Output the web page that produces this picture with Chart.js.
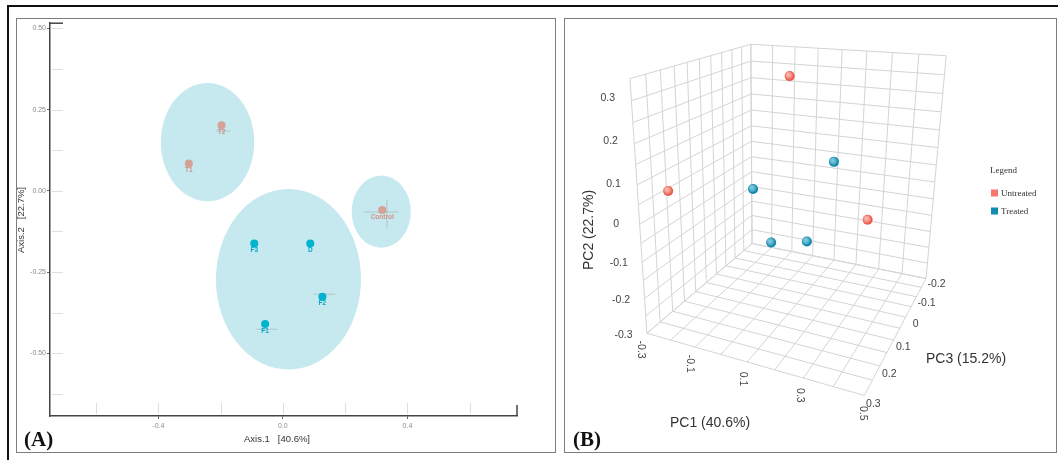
<!DOCTYPE html>
<html>
<head>
<meta charset="utf-8">
<script src="https://cdn.jsdelivr.net/npm/chart.js@4.4.1/dist/chart.umd.min.js"></script>
<style>
  html, body { margin: 0; padding: 0; background: #fff; }
  body { width: 1058px; height: 460px; position: relative; overflow: hidden; font-family: "Liberation Sans", Arial, sans-serif; }
  #outer { position: absolute; left: 7px; top: 5px; width: 1060px; height: 470px; border-top: 2px solid #111; border-left: 2px solid #111; }
  .frame { position: absolute; box-sizing: border-box; border: 1.5px solid #7d7d7d; }
  #frameA { left: 16px; top: 18px; width: 540px; height: 435px; }
  #frameB { left: 564px; top: 18px; width: 493px; height: 435px; }
  canvas { position: absolute; }
  #chartA { left: 16px; top: 18px; }
  #chartB { left: 564px; top: 18px; }
  .tag { position: absolute; font-family: "Liberation Serif", "Times New Roman", serif; font-weight: bold; font-size: 21px; line-height: 21px; color: #111; }
</style>
</head>
<body>
<div id="outer"></div>
<div class="frame" id="frameA"></div>
<div class="frame" id="frameB"></div>
<canvas id="chartA" width="540" height="435"></canvas>
<canvas id="chartB" width="493" height="435"></canvas>
<div class="tag" style="left:24px; top:429px;">(A)</div>
<div class="tag" style="left:573px; top:429px;">(B)</div>
<script>
// ---- panel A: PCoA scores ----
const samplesA = ['T1', 'T2', 'Control', 'F1', 'F2', 'F3', 'D'];
const axis1A = [-0.302, -0.197, 0.319, -0.057, 0.127, -0.092, 0.088];
const axis2A = [0.084, 0.202, -0.059, -0.410, -0.326, -0.162, -0.162];
const groupA = ['untreated', 'untreated', 'untreated', 'treated', 'treated', 'treated', 'treated'];

// confidence ellipses (centre and half-axes, in axis units)
const ellipseCx = [-0.242, 0.018, 0.316];
const ellipseCy = [0.150, -0.272, -0.064];
const ellipseRx = [0.150, 0.233, 0.095];
const ellipseRy = [0.182, 0.278, 0.111];

// faint spread bars drawn behind some samples
const barX1 = [-0.214, 0.259, 0.334, 0.098, -0.084];
const barX2 = [-0.169, 0.371, 0.334, 0.168, -0.017];
const barY1 = [0.184, -0.065, -0.028, -0.318, -0.426];
const barY2 = [0.184, -0.065, -0.115, -0.318, -0.426];

const xTicksA = [-0.4, 0.0, 0.4];
const yTicksA = [0.50, 0.25, 0.00, -0.25, -0.50];
const xGuidesA = [-0.6, -0.4, -0.2, 0.0, 0.2, 0.4, 0.6];
const yGuidesA = [0.5, 0.375, 0.25, 0.125, 0, -0.125, -0.25, -0.375, -0.5, -0.625];

// ---- panel B: 3D PCA scores ----
const untreatedPC1 = [-0.05, -0.236, 0.36];
const untreatedPC2 = [0.288, 0.072, -0.018];
const untreatedPC3 = [-0.10, 0.25, 0.05];
const treatedPC1 = [0.20, -0.126, 0.03, 0.136];
const treatedPC2 = [0.10, -0.01, -0.101, -0.108];
const treatedPC3 = [0.00, 0.00, 0.10, 0.05];

const pc1Range = [-0.3, 0.5];
const pc2Range = [-0.3, 0.35];
const pc3Range = [-0.2, 0.3];
const pc1Grid = [-0.3, -0.2, -0.1, 0, 0.1, 0.2, 0.3, 0.4, 0.5];
const pc2Grid = [-0.3, -0.25, -0.2, -0.15, -0.1, -0.05, 0, 0.05, 0.1, 0.15, 0.2, 0.25, 0.3, 0.35];
const pc3Grid = [-0.2, -0.15, -0.1, -0.05, 0, 0.05, 0.1, 0.15, 0.2, 0.25, 0.3];
const pc1Ticks = [-0.3, -0.1, 0.1, 0.3, 0.5];
const pc2Ticks = [-0.3, -0.2, -0.1, 0, 0.1, 0.2, 0.3];
const pc3Ticks = [-0.2, -0.1, 0, 0.1, 0.2, 0.3];

const colUntreatedA = '#d5a194';
const colTreatedA = '#00b3cf';
const colUntreatedB = '#f8766d';
const colTreatedB = '#0f8db3';

const sans = '"Liberation Sans", Arial, sans-serif';
const serif = '"Liberation Serif", "Times New Roman", serif';

// ---------- panel A ----------
const panelAPlugin = {
  id: 'panelA',
  beforeDatasetsDraw(chart) {
    const { ctx, chartArea: a, scales: { x, y } } = chart;
    ctx.save();
    // faint guide stubs next to the axes
    ctx.strokeStyle = '#dedede';
    ctx.lineWidth = 1;
    yGuidesA.forEach(v => {
      const py = Math.round(y.getPixelForValue(v)) + 0.5;
      ctx.beginPath(); ctx.moveTo(a.left + 2, py); ctx.lineTo(a.left + 13, py); ctx.stroke();
    });
    xGuidesA.forEach(v => {
      const px = Math.round(x.getPixelForValue(v)) + 0.5;
      ctx.beginPath(); ctx.moveTo(px, a.bottom - 2); ctx.lineTo(px, a.bottom - 13); ctx.stroke();
    });
    // ellipses
    ctx.fillStyle = '#c6e9ef';
    ellipseCx.forEach((cx, i) => {
      const px = x.getPixelForValue(cx);
      const py = y.getPixelForValue(ellipseCy[i]);
      const rx = x.getPixelForValue(cx + ellipseRx[i]) - px;
      const ry = py - y.getPixelForValue(ellipseCy[i] + ellipseRy[i]);
      ctx.beginPath(); ctx.ellipse(px, py, rx, ry, 0, 0, Math.PI * 2); ctx.fill();
    });
    // spread bars
    ctx.strokeStyle = 'rgba(150,150,150,0.45)';
    barX1.forEach((v, i) => {
      ctx.beginPath();
      ctx.moveTo(x.getPixelForValue(v), y.getPixelForValue(barY1[i]));
      ctx.lineTo(x.getPixelForValue(barX2[i]), y.getPixelForValue(barY2[i]));
      ctx.stroke();
    });
    ctx.restore();
  },
  afterDatasetsDraw(chart) {
    const { ctx, chartArea: a, scales: { x, y } } = chart;
    ctx.save();
    // sample names under the points
    ctx.font = 'bold 6.5px ' + sans;
    ctx.textAlign = 'center';
    ctx.textBaseline = 'top';
    samplesA.forEach((s, i) => {
      ctx.fillStyle = groupA[i] === 'untreated' ? '#cf9385' : '#00a8c6';
      ctx.fillText(s, x.getPixelForValue(axis1A[i]), y.getPixelForValue(axis2A[i]) + 3.5);
    });
    // little corner pieces of the panel box
    ctx.strokeStyle = '#444';
    ctx.lineWidth = 1.5;
    ctx.beginPath(); ctx.moveTo(a.left, a.top); ctx.lineTo(a.left + 13, a.top); ctx.stroke();
    ctx.beginPath(); ctx.moveTo(a.right, a.bottom); ctx.lineTo(a.right, a.bottom - 11); ctx.stroke();
    // axis titles
    ctx.fillStyle = '#333';
    ctx.font = '9.5px ' + sans;
    ctx.textBaseline = 'middle';
    ctx.fillText('Axis.1   [40.6%]', 261, 421);
    ctx.translate(5, 202);
    ctx.rotate(-Math.PI / 2);
    ctx.fillText('Axis.2   [22.7%]', 0, 0);
    ctx.restore();
  }
};

const pointsA = g => samplesA.map((s, i) => ({ x: axis1A[i], y: axis2A[i], g: groupA[i] })).filter(p => p.g === g);

new Chart(document.getElementById('chartA'), {
  type: 'scatter',
  data: {
    datasets: [
      { label: 'Untreated', data: pointsA('untreated'), backgroundColor: colUntreatedA, borderWidth: 0, pointRadius: 4 },
      { label: 'Treated', data: pointsA('treated'), backgroundColor: colTreatedA, borderWidth: 0, pointRadius: 4 }
    ]
  },
  options: {
    responsive: false,
    animation: false,
    events: [],
    layout: { padding: { left: 0, right: 39, top: 5, bottom: 0 } },
    plugins: { legend: { display: false }, tooltip: { enabled: false } },
    scales: {
      x: {
        min: -0.748, max: 0.752,
        afterFit: s => { s.height = 37; },
        afterBuildTicks: s => { s.ticks = xTicksA.map(v => ({ value: v })); },
        ticks: { callback: v => v.toFixed(1), color: '#8c8c8c', font: { size: 7, family: sans }, padding: 3, maxRotation: 0 },
        grid: { drawOnChartArea: false, tickLength: 3, color: '#666' },
        border: { display: true, color: '#444', width: 1.5 }
      },
      y: {
        min: -0.693, max: 0.516,
        afterFit: s => { s.width = 34; },
        afterBuildTicks: s => { s.ticks = yTicksA.map(v => ({ value: v })); },
        ticks: { callback: v => v.toFixed(2), color: '#8c8c8c', font: { size: 7, family: sans }, padding: 1 },
        grid: { drawOnChartArea: false, tickLength: 3, color: '#666' },
        border: { display: true, color: '#444', width: 1.5 }
      }
    }
  },
  plugins: [panelAPlugin]
});

// ---------- panel B ----------
const norm = (v, r) => (v - r[0]) / (r[1] - r[0]);

// perspective camera fitted to where the box corners sit on the canvas
// (corners listed twice so they weigh more than the tick-derived points)
const boxCorners = [
  [[0, 0, 0], [183.7, 228.7]], [[0, 0, 1], [82, 315.3]], [[1, 0, 0], [366, 258.7]], [[1, 0, 1], [301, 383.7]],
  [[0, 1, 0], [188.7, 20.3]], [[0, 1, 1], [59.3, 58]], [[1, 1, 0], [383.7, 34.7]]
];
const tickAnchors = [[[0.5, 0, 1], [181.7, 348]], [[1, 0, 0.4], [343.5, 300.3]], [[0, 0.4615, 1], [73.3, 203.7]]];
const cameraFit = [...boxCorners, ...boxCorners, ...tickAnchors];

function solve(A, b) {
  const n = b.length;
  for (let i = 0; i < n; i++) {
    let p = i;
    for (let r = i + 1; r < n; r++) if (Math.abs(A[r][i]) > Math.abs(A[p][i])) p = r;
    [A[i], A[p]] = [A[p], A[i]];
    [b[i], b[p]] = [b[p], b[i]];
    for (let r = i + 1; r < n; r++) {
      const f = A[r][i] / A[i][i];
      for (let c = i; c < n; c++) A[r][c] -= f * A[i][c];
      b[r] -= f * b[i];
    }
  }
  const out = new Array(n).fill(0);
  for (let i = n - 1; i >= 0; i--) {
    let s = b[i];
    for (let c = i + 1; c < n; c++) s -= A[i][c] * out[c];
    out[i] = s / A[i][i];
  }
  return out;
}

function fitCamera(pairs) {
  const n = 11;
  const AtA = [...Array(n)].map(() => Array(n).fill(0));
  const Atb = Array(n).fill(0);
  const add = (row, v) => {
    for (let i = 0; i < n; i++) {
      Atb[i] += row[i] * v;
      for (let j = 0; j < n; j++) AtA[i][j] += row[i] * row[j];
    }
  };
  pairs.forEach(([[X, Y, Z], [px, py]]) => {
    const x = (px - 250) / 100, y = (py - 200) / 100;
    add([X, Y, Z, 1, 0, 0, 0, 0, -x * X, -x * Y, -x * Z], x);
    add([0, 0, 0, 0, X, Y, Z, 1, -y * X, -y * Y, -y * Z], y);
  });
  const m = solve(AtA, Atb);
  return (X, Y, Z) => {
    const w = m[8] * X + m[9] * Y + m[10] * Z + 1;
    return {
      x: (m[0] * X + m[1] * Y + m[2] * Z + m[3]) / w * 100 + 250,
      y: (m[4] * X + m[5] * Y + m[6] * Z + m[7]) / w * 100 + 200
    };
  };
}

const cam = fitCamera(cameraFit);
const project = (p1, p2, p3) => cam(norm(p1, pc1Range), norm(p2, pc2Range), norm(p3, pc3Range));

const gridSets = [];
const seg = (a, b) => gridSets.push({
  data: [project(...a), project(...b)], showLine: true, pointRadius: 0,
  borderColor: '#d4d4d4', borderWidth: 1, order: 2
});
const [p1a, p1b] = pc1Range, [p2a, p2b] = pc2Range, [p3a, p3b] = pc3Range;
// back-left wall (PC1 at its minimum)
pc3Grid.forEach(v => seg([p1a, p2a, v], [p1a, p2b, v]));
pc2Grid.forEach(v => seg([p1a, v, p3a], [p1a, v, p3b]));
// back-right wall (PC3 at its minimum)
pc1Grid.forEach(v => seg([v, p2a, p3a], [v, p2b, p3a]));
pc2Grid.forEach(v => seg([p1a, v, p3a], [p1b, v, p3a]));
// floor (PC2 at its minimum)
pc1Grid.forEach(v => seg([v, p2a, p3a], [v, p2a, p3b]));
pc3Grid.forEach(v => seg([p1a, p2a, v], [p1b, p2a, v]));

const fmt = v => (v === 0 ? '0' : v.toFixed(1));

const panelBPlugin = {
  id: 'panelB',
  afterDatasetsDraw(chart) {
    // shading on the spheres
    const ctx = chart.ctx;
    [[0, '#fcb9ad'], [1, '#6fcde6']].forEach(([i, light]) => {
      chart.getDatasetMeta(i).data.forEach(el => {
        const g = ctx.createRadialGradient(el.x - 1.6, el.y - 1.8, 0.3, el.x - 0.5, el.y - 0.6, 4.6);
        g.addColorStop(0, light);
        g.addColorStop(1, 'rgba(255,255,255,0)');
        ctx.save();
        ctx.fillStyle = g;
        ctx.beginPath(); ctx.arc(el.x, el.y, 5, 0, Math.PI * 2); ctx.fill();
        ctx.restore();
      });
    });
  },
  afterDraw(chart) {
    const ctx = chart.ctx;
    ctx.save();
    ctx.fillStyle = '#444';
    ctx.font = '10.5px ' + sans;
    ctx.textAlign = 'center';
    ctx.textBaseline = 'middle';
    pc2Ticks.forEach(v => {
      const p = project(p1a, v, p3b);
      ctx.fillText(fmt(v), p.x - 20, p.y);
    });
    pc3Ticks.forEach(v => {
      const p = project(p1b, p2a, v);
      ctx.fillText(fmt(v), p.x + 8, p.y + 5);
    });
    pc1Ticks.forEach(v => {
      const p = project(v, p2a, p3b);
      ctx.save();
      ctx.translate(p.x - 3, p.y + 14);
      ctx.rotate(Math.PI / 2);
      ctx.fillText(fmt(v), 0, 0);
      ctx.restore();
    });
    // axis titles
    ctx.fillStyle = '#333';
    ctx.font = '14px ' + sans;
    ctx.fillText('PC1 (40.6%)', 146, 405);
    ctx.fillText('PC3 (15.2%)', 402, 341);
    ctx.save();
    ctx.translate(25, 212);
    ctx.rotate(-Math.PI / 2);
    ctx.fillText('PC2 (22.7%)', 0, 0);
    ctx.restore();
    // legend
    ctx.textAlign = 'left';
    ctx.fillStyle = '#333';
    ctx.font = '9px ' + serif;
    ctx.fillText('Legend', 426, 153);
    [['Untreated', colUntreatedB, 175], ['Treated', colTreatedB, 193]].forEach(([t, c, yy]) => {
      ctx.fillStyle = c;
      ctx.fillRect(427, yy - 3.5, 7, 7);
      ctx.fillStyle = '#333';
      ctx.fillText(t, 437, yy + 0.5);
    });
    ctx.restore();
  }
};

const pointsB = (a, b, c) => a.map((v, i) => project(v, b[i], c[i]));

new Chart(document.getElementById('chartB'), {
  type: 'scatter',
  data: {
    datasets: [
      { label: 'Untreated', data: pointsB(untreatedPC1, untreatedPC2, untreatedPC3), pointRadius: 5, borderWidth: 0,
        backgroundColor: '#ea5746', order: 0 },
      { label: 'Treated', data: pointsB(treatedPC1, treatedPC2, treatedPC3), pointRadius: 5, borderWidth: 0,
        backgroundColor: '#0a85ab', order: 0 },
      ...gridSets
    ]
  },
  options: {
    responsive: false,
    animation: false,
    events: [],
    layout: { padding: 0 },
    plugins: { legend: { display: false }, tooltip: { enabled: false } },
    scales: {
      x: { type: 'linear', min: 0, max: 493, display: false },
      y: { type: 'linear', min: 0, max: 435, reverse: true, display: false }
    }
  },
  plugins: [panelBPlugin]
});
</script>
</body>
</html>
